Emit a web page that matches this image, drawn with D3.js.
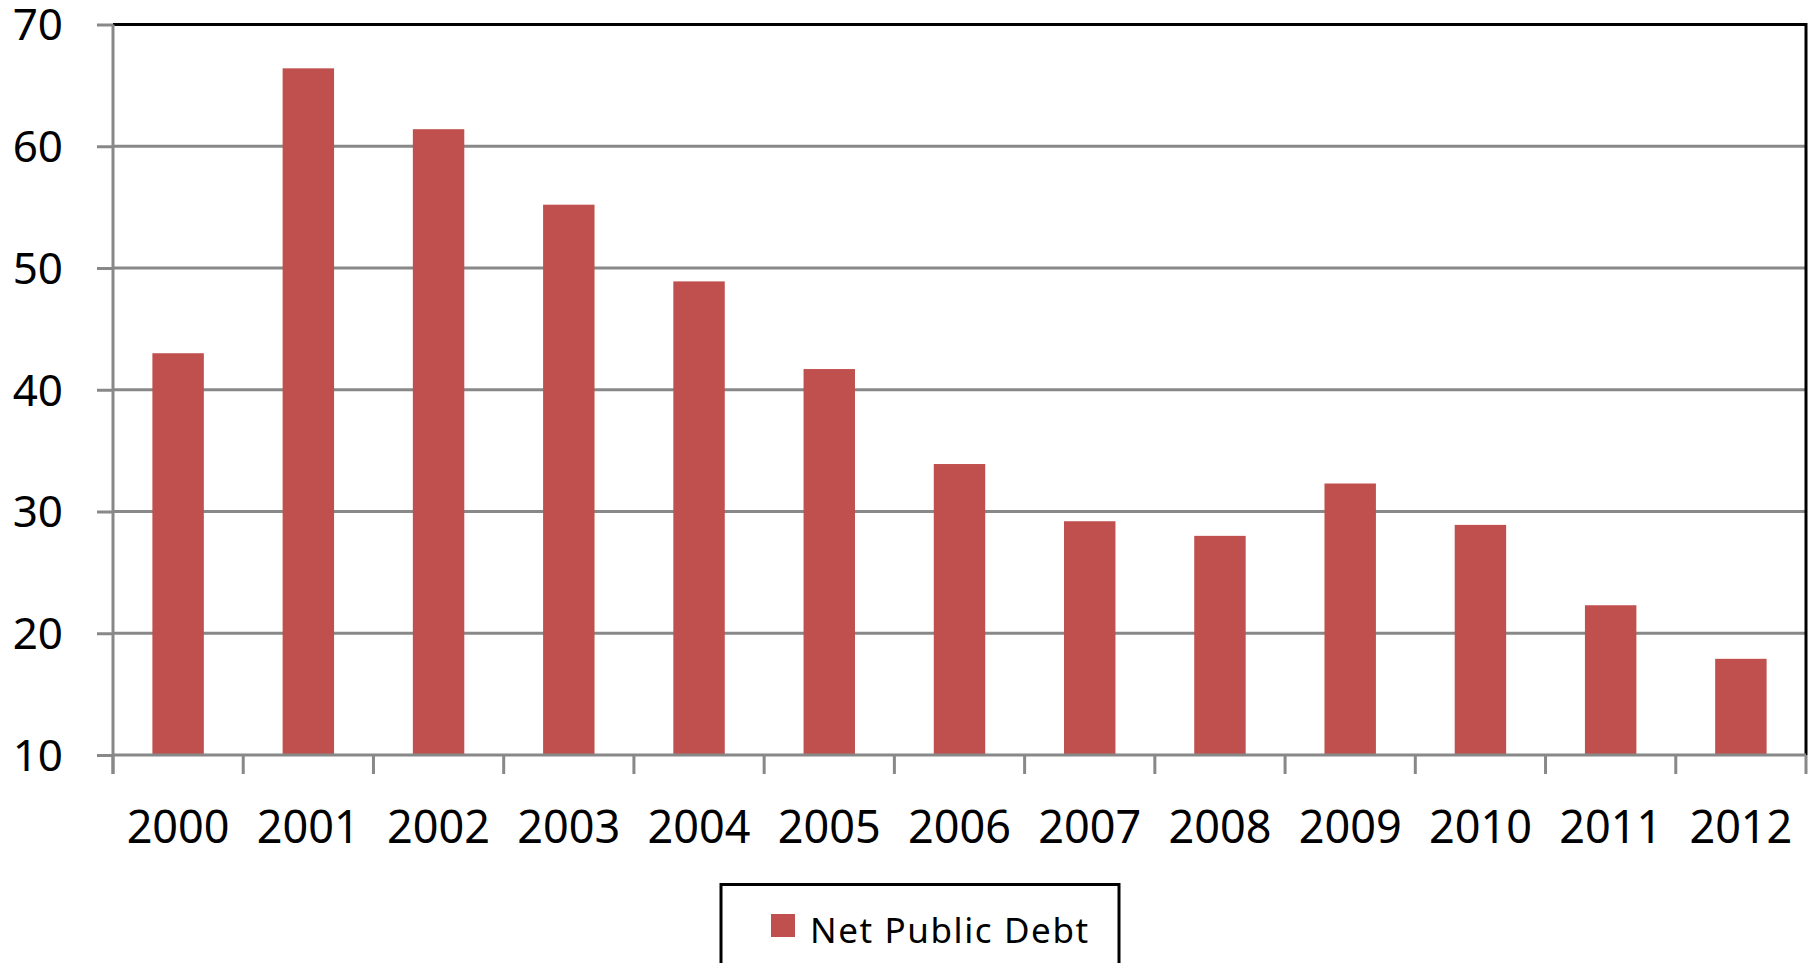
<!DOCTYPE html>
<html>
<head>
<meta charset="utf-8">
<script src="https://cdn.jsdelivr.net/npm/d3@7"></script>
<style>
  html, body { margin: 0; padding: 0; background: #fff; }
  svg { display: block; font-family: "Noto Sans", "DejaVu Sans", sans-serif; }
</style>
</head>
<body>
<svg id="chart" width="1816" height="963"></svg>
<script>
// Net public debt by year
const years = ["2000","2001","2002","2003","2004","2005","2006","2007","2008","2009","2010","2011","2012"];
const netPublicDebt = [43.0, 66.4, 61.4, 55.2, 48.9, 41.7, 33.9, 29.2, 28.0, 32.3, 28.9, 22.3, 17.9];
const yTicks = [10, 20, 30, 40, 50, 60, 70];
const seriesName = "Net Public Debt";

const svg = d3.select("#chart");
const plotLeft = 113, plotRight = 1806, plotTop = 24.5, plotBottom = 755;
const barColor = "#C0504D";
const gridColor = "#888888";

const x = d3.scaleBand().domain(years).range([plotLeft, plotRight]).paddingInner(0.605).paddingOuter(0.3025);
const y = d3.scaleLinear().domain([10, 70]).range([plotBottom, plotTop]);

// horizontal gridlines
svg.append("g").selectAll("line").data(yTicks.filter(d => d > 10 && d < 70)).join("line")
  .attr("x1", plotLeft).attr("x2", plotRight)
  .attr("y1", d => y(d)).attr("y2", d => y(d))
  .attr("stroke", gridColor).attr("stroke-width", 3);

// bars
svg.append("g").selectAll("rect").data(years).join("rect")
  .attr("x", d => x(d))
  .attr("width", x.bandwidth())
  .attr("y", (d, i) => y(netPublicDebt[i]))
  .attr("height", (d, i) => y(10) - y(netPublicDebt[i]))
  .attr("fill", barColor);

// plot area frame: top and right edges
svg.append("path")
  .attr("d", `M${plotLeft},${plotTop}H${plotRight}V${plotBottom}`)
  .attr("fill", "none").attr("stroke", "#000").attr("stroke-width", 3);

// y axis
const yAxis = d3.axisLeft(y).tickValues(yTicks).tickSize(16).tickPadding(34).tickSizeOuter(0);
const gy = svg.append("g").attr("transform", `translate(${plotLeft},0)`).call(yAxis);
gy.select(".domain").remove();
gy.selectAll(".tick line").attr("stroke", gridColor).attr("stroke-width", 3);
gy.selectAll(".tick text").attr("fill", "#000").attr("font-size", 44)
  .attr("font-family", "'Noto Sans', sans-serif").attr("dy", "0.35em");
svg.append("line").attr("x1", plotLeft).attr("x2", plotLeft).attr("y1", plotTop).attr("y2", plotBottom + 19)
  .attr("stroke", gridColor).attr("stroke-width", 3);

// x axis: baseline, category boundary ticks, centered labels
svg.append("line").attr("x1", plotLeft).attr("x2", plotRight).attr("y1", plotBottom).attr("y2", plotBottom)
  .attr("stroke", gridColor).attr("stroke-width", 3);
const step = x.step();
const tickXs = d3.range(years.length + 1).map(i => plotLeft + i * step);
svg.append("g").selectAll("line").data(tickXs).join("line")
  .attr("x1", d => d).attr("x2", d => d)
  .attr("y1", plotBottom).attr("y2", plotBottom + 19)
  .attr("stroke", gridColor).attr("stroke-width", 3);
svg.append("g").selectAll("text").data(years).join("text")
  .attr("x", d => x(d) + x.bandwidth() / 2)
  .attr("y", 843)
  .attr("text-anchor", "middle")
  .attr("font-size", 45)
  .attr("fill", "#000")
  .text(d => d);

// legend
const legend = svg.append("g");
legend.append("rect").attr("x", 721).attr("y", 884.5).attr("width", 398).attr("height", 100)
  .attr("fill", "#fff").attr("stroke", "#000").attr("stroke-width", 3);
legend.append("rect").attr("x", 771).attr("y", 914).attr("width", 24).attr("height", 23).attr("fill", barColor);
legend.append("text").attr("x", 810).attr("y", 943).attr("font-size", 35).attr("fill", "#000")
  .attr("letter-spacing", 1.6)
  .text(seriesName);
</script>
</body>
</html>
